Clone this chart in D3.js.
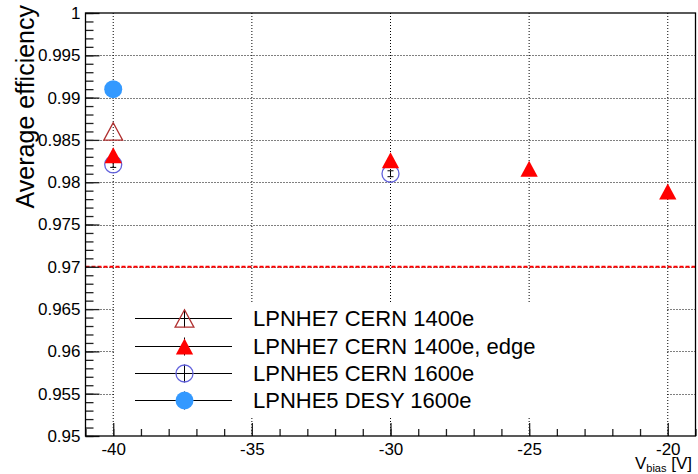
<!DOCTYPE html>
<html>
<head>
<meta charset="utf-8">
<script src="https://cdn.jsdelivr.net/npm/d3@7"></script>
<style>
  body { margin: 0; background: #fff; }
  text { font-family: "Liberation Sans", Arial, Helvetica, sans-serif; fill: #000; }
</style>
</head>
<body>
<script>
// data
var vbias7 = [-40];
var cern7 = [0.986];
var vbias7edge = [-40, -30, -25, -20];
var cern7edge = [0.9832, 0.9826, 0.9816, 0.9789];
var vbias5 = [-40, -30];
var cern5 = [0.9821, 0.9810];
var cern5err = [0.00035, 0.00035];
var vbias5desy = [-40];
var desy5 = [0.9910];
var threshold = 0.97;

var xTicks = [-40, -35, -30, -25, -20];
var xTickLabels = ["-40", "-35", "-30", "-25", "-20"];
var yTicks = [0.95, 0.955, 0.96, 0.965, 0.97, 0.975, 0.98, 0.985, 0.99, 0.995, 1];
var yTickLabels = ["0.95", "0.955", "0.96", "0.965", "0.97", "0.975", "0.98", "0.985", "0.99", "0.995", "1"];
var legendNames = ["LPNHE7 CERN 1400e", "LPNHE7 CERN 1400e, edge", "LPNHE5 CERN 1600e", "LPNHE5 DESY 1600e"];

// canvas
var totalWidth = 698, totalHeight = 474;
var margin = {top: 13, right: 2.5, bottom: 38, left: 85.5};
var width = totalWidth - margin.left - margin.right;
var height = totalHeight - margin.top - margin.bottom;

var svg = d3.select("body").append("svg")
    .attr("width", totalWidth)
    .attr("height", totalHeight);

svg.append("rect").attr("width", totalWidth).attr("height", totalHeight).attr("fill", "#fff");

var g = svg.append("g")
    .attr("transform", "translate(" + margin.left + "," + margin.top + ")");

var x = d3.scaleLinear().domain([-41, -19]).range([0, width]);
var y = d3.scaleLinear().domain([0.95, 1]).range([height, 0]);

// grid
g.selectAll(".gridx")
    .data(xTicks)
    .enter().append("line")
    .attr("x1", function(d) { return x(d); })
    .attr("x2", function(d) { return x(d); })
    .attr("y1", 0).attr("y2", height)
    .attr("stroke", "#000").attr("stroke-width", 1)
    .attr("stroke-dasharray", "1,2");

g.selectAll(".gridy")
    .data(yTicks.slice(1, -1))
    .enter().append("line")
    .attr("x1", 0).attr("x2", width)
    .attr("y1", function(d) { return Math.round(y(d)) + 0.5; })
    .attr("y2", function(d) { return Math.round(y(d)) + 0.5; })
    .attr("stroke", "#000").attr("stroke-width", 1)
    .attr("stroke-dasharray", "1,2");

// threshold line
g.append("line")
    .attr("x1", 0).attr("x2", width)
    .attr("y1", y(threshold)).attr("y2", y(threshold))
    .attr("stroke", "#ff0000").attr("stroke-width", 2)
    .attr("stroke-dasharray", "4,2");

// legend box covers the grid
var legX = 114 - margin.left, legY = 303 - margin.top;
g.append("rect")
    .attr("x", legX).attr("y", legY)
    .attr("width", 553).attr("height", 114)
    .attr("fill", "#fff");

// axes (ticks pointing inward like ROOT)
var minorX = d3.range(-41, -18, 1);
var minorY = d3.range(0, 51).map(function(i) { return 0.95 + i * 0.001; });

var xMinor = d3.axisBottom(x).tickValues(minorX).tickSize(-7).tickFormat("");
var xMajor = d3.axisBottom(x).tickValues(xTicks).tickSize(-13).tickPadding(7)
    .tickFormat(function(d, i) { return xTickLabels[i]; });
var yMinor = d3.axisLeft(y).tickValues(minorY).tickSize(-8).tickFormat("");
var yMajor = d3.axisLeft(y).tickValues(yTicks).tickSize(-14).tickPadding(5)
    .tickFormat(function(d, i) { return yTickLabels[i]; });

g.append("g").attr("transform", "translate(0," + height + ")").call(xMinor);
g.append("g").attr("class", "axis").attr("transform", "translate(0," + height + ")").call(xMajor);
g.append("g").call(yMinor);
g.append("g").attr("class", "axis").call(yMajor);

g.selectAll(".domain").remove();
g.selectAll(".tick line").attr("stroke", "#222").attr("stroke-width", 1.3);
g.selectAll(".axis text").style("font-size", "17px").attr("fill", "#000");

// frame
g.append("rect")
    .attr("x", 0).attr("y", 0)
    .attr("width", width).attr("height", height)
    .attr("fill", "none").attr("stroke", "#000").attr("stroke-width", 1.3);

// markers
function triangle(h) {
    return "M0," + (-h) + "L" + (h * 1.08) + "," + h + "L" + (-h * 1.08) + "," + h + "Z";
}

// error bars for LPNHE5 CERN
var errs = g.selectAll(".err")
    .data(vbias5)
    .enter().append("g")
    .attr("stroke", "#000").attr("stroke-width", 1);
errs.append("line")
    .attr("x1", function(d) { return x(d); }).attr("x2", function(d) { return x(d); })
    .attr("y1", function(d, i) { return y(cern5[i] + cern5err[i]); })
    .attr("y2", function(d, i) { return y(cern5[i] - cern5err[i]); });
errs.append("line")
    .attr("x1", function(d) { return x(d) - 3; }).attr("x2", function(d) { return x(d) + 3; })
    .attr("y1", function(d, i) { return y(cern5[i] + cern5err[i]); })
    .attr("y2", function(d, i) { return y(cern5[i] + cern5err[i]); });
errs.append("line")
    .attr("x1", function(d) { return x(d) - 3; }).attr("x2", function(d) { return x(d) + 3; })
    .attr("y1", function(d, i) { return y(cern5[i] - cern5err[i]); })
    .attr("y2", function(d, i) { return y(cern5[i] - cern5err[i]); });

g.selectAll(".c5")
    .data(vbias5)
    .enter().append("circle")
    .attr("cx", function(d) { return x(d); })
    .attr("cy", function(d, i) { return y(cern5[i]); })
    .attr("r", 8.5)
    .attr("fill", "none").attr("stroke", "#6262dc").attr("stroke-width", 1.3);

g.selectAll(".t7")
    .data(vbias7)
    .enter().append("path")
    .attr("d", triangle(8.7))
    .attr("transform", function(d, i) { return "translate(" + x(d) + "," + y(cern7[i]) + ")"; })
    .attr("fill", "none").attr("stroke", "#b03030").attr("stroke-width", 1.3);

g.selectAll(".t7e")
    .data(vbias7edge)
    .enter().append("path")
    .attr("d", triangle(8))
    .attr("transform", function(d, i) { return "translate(" + x(d) + "," + y(cern7edge[i]) + ")"; })
    .attr("fill", "#ff0000");

g.selectAll(".d5")
    .data(vbias5desy)
    .enter().append("circle")
    .attr("cx", function(d) { return x(d); })
    .attr("cy", function(d, i) { return y(desy5[i]); })
    .attr("r", 9)
    .attr("fill", "#3399ff");

// legend
var legRows = [318.5, 346.5, 373.5, 400.5];
var leg = svg.append("g");
legendNames.forEach(function(name, i) {
    var ly = legRows[i];
    var row = leg.append("g").attr("transform", "translate(0," + ly + ")");
    row.append("line").attr("x1", 135).attr("x2", 232).attr("y1", 0).attr("y2", 0)
        .attr("stroke", "#000").attr("stroke-width", 1);
    row.append("line").attr("x1", 184.5).attr("x2", 184.5).attr("y1", -9).attr("y2", 9)
        .attr("stroke", "#000").attr("stroke-width", 1);
    if (i === 0) {
        row.append("path").attr("d", triangle(8.7)).attr("transform", "translate(184.5,0)")
            .attr("fill", "none").attr("stroke", "#b03030").attr("stroke-width", 1.3);
    } else if (i === 1) {
        row.append("path").attr("d", triangle(8)).attr("transform", "translate(184.5,0)")
            .attr("fill", "#ff0000");
    } else if (i === 2) {
        row.append("circle").attr("cx", 184.5).attr("cy", 0).attr("r", 8.5)
            .attr("fill", "none").attr("stroke", "#6262dc").attr("stroke-width", 1.3);
    } else {
        row.append("circle").attr("cx", 184.5).attr("cy", 0).attr("r", 9)
            .attr("fill", "#3399ff");
    }
    row.append("text").attr("x", 253).attr("y", 0).attr("dy", "0.36em")
        .style("font-size", "22px").text(name);
});

// axis titles
svg.append("text")
    .attr("transform", "translate(34,5) rotate(-90)")
    .attr("text-anchor", "end")
    .style("font-size", "25px")
    .text("Average efficiency");

var xt = svg.append("text")
    .attr("x", 692).attr("y", 469)
    .attr("text-anchor", "end")
    .style("font-size", "17px");
xt.append("tspan").text("V");
xt.append("tspan").attr("dy", 3).style("font-size", "11px").text("bias");
xt.append("tspan").attr("dy", -3).text(" [V]");
</script>
</body>
</html>
